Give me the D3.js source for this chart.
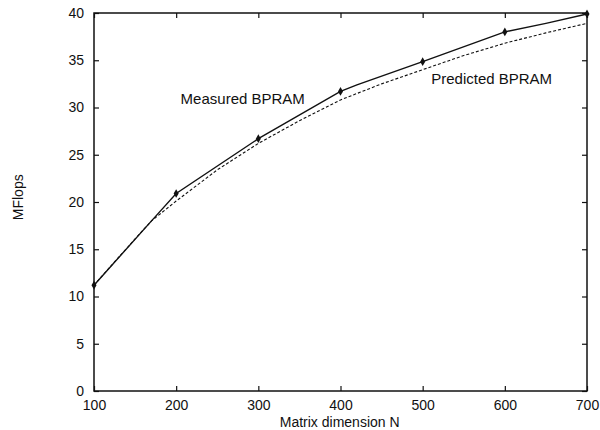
<!DOCTYPE html>
<html>
<head>
<meta charset="utf-8">
<script src="https://cdn.jsdelivr.net/npm/d3@7"></script>
<style>
  body { margin: 0; background: #fff; }
  svg { font-family: "Liberation Sans", Arial, sans-serif; }
</style>
</head>
<body>
<div id="chart"></div>
<script>
/* MFlops vs matrix dimension, measured vs predicted BPRAM */

// measured curve (solid), markers only at the hundreds
const measuredN = [100, 170, 200, 300, 400, 420, 500, 600, 650, 700];
const measuredMF = [11.2, 18.0, 20.9, 26.7, 31.7, 32.4, 34.85, 38.0, 38.9, 39.9];
const markerN = [100, 200, 300, 400, 500, 600, 700];

// predicted curve (dashed)
const predictedN = [100, 150, 170, 200, 250, 300, 350, 400, 450, 500, 550, 600, 650, 700];
const predictedMF = [11.2, 16.1, 18.0, 20.1, 23.4, 26.2, 28.6, 30.8, 32.5, 34.0, 35.5, 36.8, 37.9, 38.9];

const xTicks = [100, 200, 300, 400, 500, 600, 700];
const yTicks = [0, 5, 10, 15, 20, 25, 30, 35, 40];

const width = 600,
      height = 430,
      margin = ({ top: 13, right: 13, bottom: 39, left: 94 });

let svg = d3.select("#chart")
    .append("svg")
    .attr("width", width)
    .attr("height", height);

let x = d3.scaleLinear()
    .domain([100, 700])
    .range([margin.left, width - margin.right]);

let y = d3.scaleLinear()
    .domain([0, 40])
    .range([height - margin.bottom, margin.top]);

const ink = "#111";

// axes with inward ticks (gnuplot style)
svg.append("g")
    .attr("transform", `translate(0,${height - margin.bottom})`)
    .call(d3.axisBottom(x).tickValues(xTicks).tickSize(-5).tickPadding(9));
svg.append("g")
    .attr("transform", `translate(0,${margin.top})`)
    .call(d3.axisTop(x).tickValues(xTicks).tickSize(-5).tickFormat(""));
svg.append("g")
    .attr("transform", `translate(${margin.left},0)`)
    .call(d3.axisLeft(y).tickValues(yTicks).tickSize(-5).tickPadding(10));
svg.append("g")
    .attr("transform", `translate(${width - margin.right},0)`)
    .call(d3.axisRight(y).tickValues(yTicks).tickSize(-5).tickFormat(""));

svg.selectAll(".domain").remove();
svg.selectAll(".tick line").attr("stroke", ink).attr("stroke-width", 1.2);
svg.selectAll(".tick text").attr("fill", ink).style("font-size", "14px");

// frame
svg.append("rect")
    .attr("x", margin.left)
    .attr("y", margin.top)
    .attr("width", width - margin.left - margin.right)
    .attr("height", height - margin.top - margin.bottom)
    .attr("fill", "none")
    .attr("stroke", ink)
    .attr("stroke-width", 1.5);

let line = d3.line()
    .x(d => x(d[0]))
    .y(d => y(d[1]));

svg.append("path") // predicted
    .datum(d3.zip(predictedN, predictedMF))
    .attr("d", line)
    .attr("fill", "none")
    .attr("stroke", ink)
    .attr("stroke-width", 1.1)
    .attr("stroke-dasharray", "3,2");

svg.append("path") // measured
    .datum(d3.zip(measuredN, measuredMF))
    .attr("d", line)
    .attr("fill", "none")
    .attr("stroke", ink)
    .attr("stroke-width", 1.4);

svg.selectAll(".marker")
    .data(markerN)
    .join("path")
    .attr("class", "marker")
    .attr("d", d3.symbol(d3.symbolDiamond, 22))
    .attr("transform", d => `translate(${x(d)},${y(measuredMF[measuredN.indexOf(d)])})`)
    .attr("fill", ink);

// curve labels
svg.append("text")
    .attr("x", x(281))
    .attr("y", y(30.4))
    .attr("text-anchor", "middle")
    .style("font-size", "15px")
    .attr("fill", ink)
    .text("Measured BPRAM");

svg.append("text")
    .attr("x", x(584))
    .attr("y", y(32.5))
    .attr("text-anchor", "middle")
    .style("font-size", "15px")
    .attr("fill", ink)
    .text("Predicted BPRAM");

// axis titles
svg.append("text")
    .attr("x", x(399))
    .attr("y", height - 3)
    .attr("text-anchor", "middle")
    .style("font-size", "14px")
    .attr("fill", ink)
    .text("Matrix dimension N");

svg.append("text")
    .attr("transform", `translate(23,${y(20.5)}) rotate(-90)`)
    .attr("text-anchor", "middle")
    .style("font-size", "14px")
    .attr("fill", ink)
    .text("MFlops");
</script>
</body>
</html>
